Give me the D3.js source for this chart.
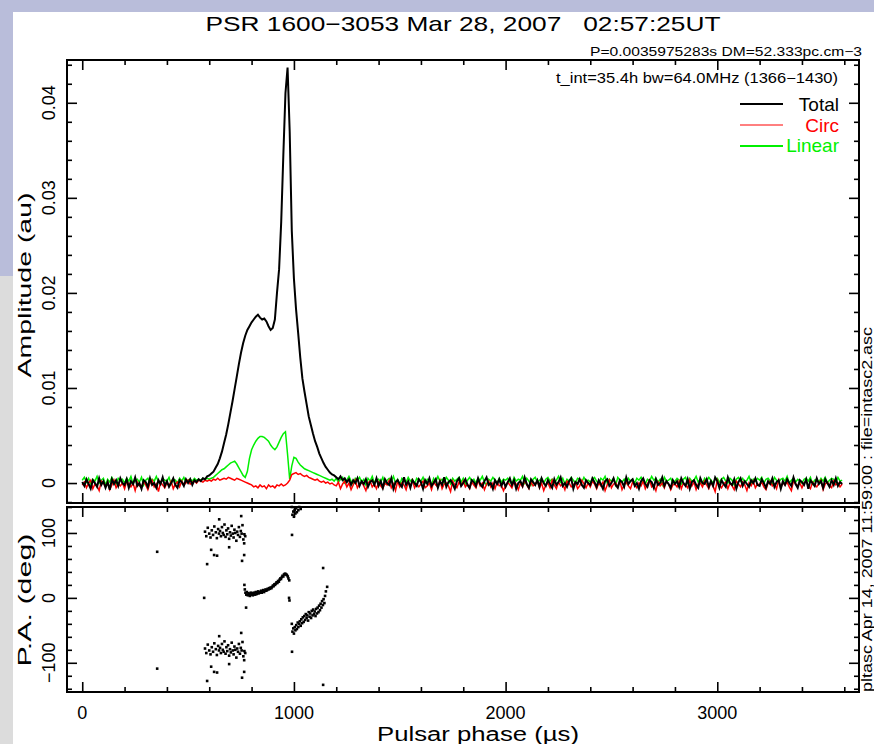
<!DOCTYPE html>
<html><head><meta charset="utf-8">
<script src="https://cdn.jsdelivr.net/npm/d3@7"></script>
<style>
html,body{margin:0;padding:0;background:#fff;}
svg{display:block;}
text{font-family:"Liberation Sans",Arial,sans-serif;fill:#000;}
</style></head><body>
<svg id="c" width="874" height="744"></svg>
<script>
// ---------------- data ----------------
const binWidth = 10;      // µs per profile bin
const ampUnit = 1e-4;     // profile arrays are in units of 1e-4 au

const total = [
1,-3,4,-1,-6,3,0,-4,5,-2,2,-5,1,-7,4,-1,3,-3,5,0,
-2,4,-5,2,-1,6,-3,0,-6,3,1,-4,5,-2,0,-5,3,-1,6,-3,
2,-4,0,5,-2,-5,3,1,-3,4,0,4,-2,3,1,4,2,5,4,7,
8,10,12,16,20,26,33,42,51,62,74,86,99,112,125,137,147,155,161,165,
169,172,175,177,174,172,173,170,165,161,163,172,200,225,275,345,410,437,370,265,
215,183,158,132,110,96,83,70,61,52,44,38,31,26,21,17,14,11,9,8,
6,4,7,3,5,1,4,-2,3,0,5,-3,2,-1,4,-4,1,3,-2,5,
-3,2,-5,4,0,-2,5,-6,1,3,-1,-4,6,-2,2,-5,3,0,-3,4,
1,-6,3,-1,5,-3,0,4,-5,2,-2,6,-4,1,3,-1,-6,2,5,-3,
0,4,-2,-5,3,1,-3,5,-1,-4,2,6,-2,0,-6,3,-1,4,-3,2,
-4,1,5,-2,3,-6,0,2,-3,6,-1,-5,4,1,-2,3,-4,5,0,-3,
3,-1,-5,4,-2,1,6,-3,0,-4,2,5,-6,1,-1,4,-2,-5,3,0,
-2,5,1,-4,3,-1,-6,2,4,-3,0,5,-2,-5,3,1,-4,6,-1,2,
4,-3,0,-6,2,5,-1,-4,3,1,-5,4,-2,0,6,-3,2,-1,-5,3,
-1,2,-4,5,0,-3,4,-6,1,3,-2,-5,5,0,-1,4,-4,2,-3,6,
2,-5,3,-1,-4,6,0,-2,4,-6,1,5,-3,2,-1,-4,3,0,5,-2,
-3,4,0,-5,2,-1,5,-4,1,3,-6,2,-2,4,0,-3,6,-1,-5,3,
1,-2,4,-6,3,0,-3,5,-1,2,-5,4,0,-4,3,-2,5,-3,1,-1
];

const circ = [
-2,1,-5,0,3,-6,-1,-3,-8,2,0,-4,1,-7,-2,3,-5,-1,-3,0,
-6,2,-1,-4,0,-8,1,-3,-5,2,-2,-7,0,3,-4,-1,-9,1,-2,-5,
0,-3,2,-6,-1,1,-4,2,-2,0,3,-1,1,2,0,3,2,1,3,2,
3,2,4,3,5,3,4,5,4,6,5,4,3,5,4,3,2,1,0,-1,
-2,-4,-3,-5,-2,-4,-3,-6,-2,-4,-3,-5,-2,-3,-1,-3,-2,0,3,9,
10,11,9,10,8,7,8,6,5,4,3,4,2,1,2,0,1,-1,0,-2,
-3,1,-6,-1,2,-4,0,-7,-2,3,-5,-1,1,-3,-8,0,2,-4,-1,-6,
1,-3,-6,0,-2,3,-5,-1,-8,2,-4,0,-2,-7,1,-3,3,-5,-1,-4,
-1,2,-5,-3,0,-7,1,-2,-4,3,-6,-1,0,-3,-9,2,-2,-5,1,-3,
2,-4,-1,-6,1,-2,-5,3,-3,0,-7,-1,2,-4,0,-6,1,-3,-2,-8,
-3,1,-2,-5,2,-1,-7,0,-4,3,-2,-6,1,-3,-1,2,-5,0,-8,-2,
0,-5,3,-2,-6,1,-3,-1,-7,2,0,-4,-2,1,-6,-3,3,-1,-5,0,
-4,2,-1,-6,0,-3,1,-8,-2,3,-5,-1,0,-4,2,-7,-2,1,-3,-6,
1,-2,-5,0,-3,2,-6,-1,3,-4,-2,-8,1,-3,0,-5,2,-1,-7,-2,
-1,-4,2,-6,0,-2,-5,3,-3,1,-7,-1,0,-4,2,-2,-6,1,-3,-9,
3,-2,-5,-1,1,-6,0,-3,-7,2,-1,-4,1,-2,-8,0,-3,2,-5,-1,
-2,1,-4,-7,0,2,-3,-1,-6,3,-5,0,-2,1,-4,-8,2,-1,-3,0,
-5,0,2,-3,-6,1,-2,-4,0,3,-7,-1,1,-3,-5,2,-2,0,-4,-1
];

const linear = [
3,6,1,5,-1,4,2,7,0,3,5,-2,4,1,6,2,-1,5,3,4,
0,5,2,7,-1,3,4,1,6,-2,3,5,0,4,2,7,1,-1,5,3,
2,6,-1,4,3,0,5,2,6,1,3,4,2,5,3,4,3,5,4,5,
4,5,6,8,10,12,14,15,17,19,21,22,23,20,16,12,8,6,12,26,
35,40,44,47,49,49,48,46,44,40,37,35,38,43,48,52,54,30,4,18,
27,26,22,19,17,15,14,13,12,11,10,9,8,7,6,5,4,3,4,2,
5,1,4,6,0,3,7,2,-1,5,3,6,1,4,-2,5,2,7,0,3,
4,1,6,-1,3,5,2,7,0,4,-2,5,3,1,6,2,4,-1,5,3,
2,6,0,4,3,-2,5,1,7,2,4,0,6,3,-1,5,2,4,6,1,
5,-1,3,6,2,4,0,5,3,7,1,-2,4,2,6,3,0,5,1,4,
3,5,1,-1,6,2,4,3,7,0,5,2,-2,4,6,1,3,5,0,4,
6,2,4,0,3,7,1,5,-1,4,2,6,3,0,5,4,1,6,2,3,
1,4,6,2,-1,5,3,7,0,4,2,5,-2,6,3,1,4,0,5,2,
4,0,5,3,6,1,-1,4,2,7,3,5,1,4,-2,6,2,3,5,0,
2,5,3,-1,4,6,0,5,2,3,7,1,4,-1,5,2,6,3,0,4,
5,1,4,6,2,0,5,3,-2,4,6,2,5,1,3,7,0,4,2,5,
3,6,0,4,5,2,-1,6,3,1,4,5,2,7,0,3,5,1,4,2,
0,4,5,2,6,-1,3,4,1,5,2,6,0,3,5,4,1,6,2,3
];

// position angle points (phase µs, PA deg); plotted also at PA±180 where in range
const paPhase = [
354,576,774,977,979,991,1138,1157,
647,751,609,623,637,590,765,755,694,765,
580,586,593,600,606,612,618,624,631,636,642,646,651,655,660,664,668,672,677,681,
685,689,694,698,702,706,711,715,719,723,728,732,736,740,745,749,753,757,761,766,770,
766,768,771,775,778,782,785,789,792,796,799,803,806,810,813,817,820,824,827,831,834,838,841,845,848,852,855,859,862,866,869,873,876,880,883,887,890,894,897,901,904,908,911,915,918,922,925,929,932,936,939,943,946,950,953,957,960,964,967,971,974,978,
990,993,997,1000,1004,1007,1011,1014,1018,1021,1025,1028,1032,1035,1039,1042,1046,1049,1053,1056,1060,1063,1067,1070,1074,1077,1081,1084,1088,1091,1095,1098,1102,1105,1109,1112,1116,1119,1123,1126,1130,1133,1137,1140,1144,1147,1151
];
const paDeg = [
71,0,-15,0,-4,97,46,17,
121,126,74,66,65,52,66,57,78,84,
102,95,108,99,93,104,97,110,101,92,106,99,103,95,109,100,97,113,94,104,
98,107,91,101,96,111,99,93,105,100,88,102,97,109,94,103,99,112,90,98,95,
20,13,8,5,9,4,7,6,3,8,5,7,4,8,6,5,9,6,7,10,7,9,8,11,8,10,12,9,11,13,11,12,14,13,15,14,16,15,17,19,18,21,20,22,24,23,26,25,28,30,29,32,34,33,36,37,37,36,35,33,30,27,
-40,-52,-47,-55,-45,-50,-42,-48,-38,-45,-40,-36,-43,-33,-39,-30,-37,-28,-34,-25,-31,-27,-35,-22,-29,-24,-31,-20,-27,-18,-25,-21,-28,-17,-24,-15,-22,-12,-19,-9,-15,-5,-11,-2,-8,3,10
];

const ampTicks = [0, 0.01, 0.02, 0.03, 0.04];
const ampTickLabels = ["0", "0.01", "0.02", "0.03", "0.04"];
const paTicks = [-100, 0, 100];
const paTickLabels = ["\u2212100", "0", "100"];
const phaseTicks = [0, 1000, 2000, 3000];
const phaseTickLabels = ["0", "1000", "2000", "3000"];

const legendNames = ["Total", "Circ", "Linear"];
const legendColors = ["#000000", "#ff0000", "#00f000"];

[total, circ, linear].forEach((a, i) => {
  if (a.length !== 360) throw new Error("series " + i + " has " + a.length + " bins");
});
if (paPhase.length !== paDeg.length) throw new Error("PA arrays differ " + paPhase.length + " vs " + paDeg.length);

// ---------------- drawing ----------------
const svg = d3.select("#c");
svg.append("rect").attr("x",0).attr("y",0).attr("width",874).attr("height",744).attr("fill","#ffffff");
svg.append("rect").attr("x",0).attr("y",0).attr("width",874).attr("height",12).attr("fill","#b9bdda");
svg.append("rect").attr("x",0).attr("y",0).attr("width",13).attr("height",276).attr("fill","#b9bdda");
svg.append("rect").attr("x",0).attr("y",276).attr("width",13).attr("height",468).attr("fill","#dcdcdc");

const L = 67, R = 859;
const T1 = 60, B1 = 503, T2 = 507, B2 = 692;

const x = d3.scaleLinear().domain([-72, 3669.5]).range([L, R]);
const yA = d3.scaleLinear().domain([-0.0021, 0.0445]).range([B1, T1]);
const yP = d3.scaleLinear().domain([-145, 140]).range([B2, T2]);

const phaseMinor = d3.range(0, 3601, 200).filter(v => v % 1000 !== 0);
const ampMinor = d3.range(-0.002, 0.0445, 0.002).filter(v => Math.abs(v*100 - Math.round(v*100)) > 1e-6);
const paMinor = d3.range(-140, 141, 20).filter(v => v % 100 !== 0);

function tickGroup(tr, axis) {
  const g = svg.append("g").attr("transform", tr).call(axis);
  g.select(".domain").remove();
  g.selectAll(".tick line").attr("stroke", "#000").attr("stroke-width", 1.6);
  g.selectAll(".tick text").remove();
  return g;
}
function boxTicks(yScale, top, bottom, yMajor, yMinor) {
  [[phaseTicks,10],[phaseMinor,5]].forEach(([vals,s]) => {
    tickGroup(`translate(0,${bottom})`, d3.axisBottom(x).tickValues(vals).tickSize(-s));
    tickGroup(`translate(0,${top})`, d3.axisTop(x).tickValues(vals).tickSize(-s));
  });
  [[yMajor,10],[yMinor,5]].forEach(([vals,s]) => {
    tickGroup(`translate(${L},0)`, d3.axisLeft(yScale).tickValues(vals).tickSize(-s));
    tickGroup(`translate(${R},0)`, d3.axisRight(yScale).tickValues(vals).tickSize(-s));
  });
  svg.append("rect").attr("x", L).attr("y", top).attr("width", R - L).attr("height", bottom - top)
    .attr("fill", "none").attr("stroke", "#000").attr("stroke-width", 2);
}

// profiles
const line = d3.line().x((d, i) => x(i * binWidth)).y(d => yA(d * ampUnit));
const plot = svg.append("g");
plot.append("path").datum(linear).attr("d", line).attr("fill", "none").attr("stroke", "#00f000").attr("stroke-width", 1.5);
plot.append("path").datum(circ).attr("d", line).attr("fill", "none").attr("stroke", "#ff0000").attr("stroke-width", 1.5);
plot.append("path").datum(total).attr("d", line).attr("fill", "none").attr("stroke", "#000").attr("stroke-width", 2);

// PA points
const paPts = [];
paPhase.forEach((p, i) => {
  [0, -180, 180].forEach(o => {
    const v = paDeg[i] + o;
    if (v >= -142 && v <= 140) paPts.push([p, v]);
  });
});
svg.append("g").selectAll("rect").data(paPts).join("rect")
  .attr("x", d => x(d[0]) - 1.3).attr("y", d => yP(d[1]) - 1.3)
  .attr("width", 2.6).attr("height", 2.6).attr("fill", "#000");

boxTicks(yA, T1, B1, ampTicks, ampMinor);
boxTicks(yP, T2, B2, paTicks, paMinor);

// tick labels
const tl = svg.append("g").style("font-size", "18px");
ampTicks.forEach((v, i) => {
  tl.append("text").attr("transform", `translate(55,${yA(v)}) rotate(-90)`)
    .attr("text-anchor", "middle").text(ampTickLabels[i]);
});
paTicks.forEach((v, i) => {
  tl.append("text").attr("transform", `translate(55,${yP(v)}) rotate(-90)`)
    .attr("text-anchor", "middle").text(paTickLabels[i]);
});
phaseTicks.forEach((v, i) => {
  tl.append("text").attr("x", x(v)).attr("y", 719).attr("text-anchor", "middle").text(phaseTickLabels[i]);
});

// titles and annotations
svg.append("text").attr("x", 463).attr("y", 31).attr("text-anchor", "middle")
  .attr("xml:space", "preserve").style("white-space", "pre")
  .style("font-size", "21px").attr("textLength", 515).attr("lengthAdjust", "spacingAndGlyphs")
  .text("PSR 1600\u22123053 Mar 28, 2007   02:57:25UT");
svg.append("text").attr("x", 590).attr("y", 56).style("font-size", "12.5px")
  .attr("textLength", 272).attr("lengthAdjust", "spacingAndGlyphs")
  .text("P=0.0035975283s DM=52.333pc.cm\u22123");
svg.append("text").attr("x", 556).attr("y", 83).style("font-size", "14.5px")
  .attr("textLength", 282).attr("lengthAdjust", "spacingAndGlyphs")
  .text("t_int=35.4h bw=64.0MHz (1366\u22121430)");
svg.append("text").attr("transform", "translate(31,285) rotate(-90)").attr("text-anchor", "middle")
  .style("font-size", "19px").attr("textLength", 185).attr("lengthAdjust", "spacingAndGlyphs")
  .text("Amplitude (au)");
svg.append("text").attr("transform", "translate(31,600) rotate(-90)").attr("text-anchor", "middle")
  .style("font-size", "19px").attr("textLength", 133).attr("lengthAdjust", "spacingAndGlyphs")
  .text("P.A. (deg)");
svg.append("text").attr("x", 478).attr("y", 741).attr("text-anchor", "middle")
  .style("font-size", "20px").attr("textLength", 202).attr("lengthAdjust", "spacingAndGlyphs")
  .text("Pulsar phase (\u00b5s)");
svg.append("text").attr("transform", "translate(872,692) rotate(-90)")
  .style("font-size", "14px").attr("textLength", 365).attr("lengthAdjust", "spacingAndGlyphs")
  .text("pltasc Apr 14, 2007 11:59:00 : file=intasc2.asc");

// legend
const legY = [104, 125, 146];
const legBase = [111, 132, 152];
legendNames.forEach((n, i) => {
  svg.append("line").attr("x1", 740).attr("x2", 783).attr("y1", legY[i]).attr("y2", legY[i])
    .attr("stroke", legendColors[i]).attr("stroke-width", i === 1 ? 1 : 2);
  svg.append("text").attr("x", 839).attr("y", legBase[i]).attr("text-anchor", "end")
    .style("font-size", "19px").style("fill", legendColors[i]).text(n);
});
</script>
</body></html>
